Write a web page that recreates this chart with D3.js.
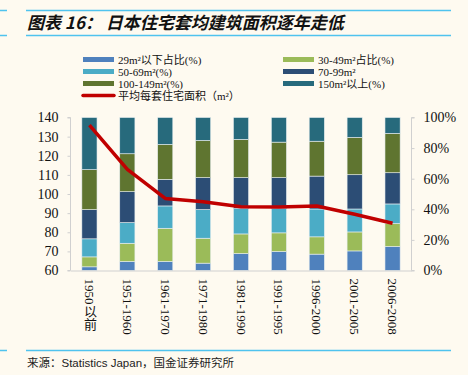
<!DOCTYPE html>
<html>
<head>
  <meta charset="utf-8">
  <script src="https://d3js.org/d3.v7.min.js"></script>
  <style>
    body { margin: 0; background: #fefaf0; }
    svg { display: block; }
    .serif { font-family: "Liberation Serif", "Noto Sans CJK SC", serif; }
  </style>
</head>
<body>
  <svg id="chart"></svg>
  <script>
    var periods = ["1950以前", "1951-1960", "1961-1970", "1971-1980", "1981-1990", "1991-1995", "1996-2000", "2001-2005", "2006-2008"];

    // share of dwellings by floor area (%)
    var s29 = [2.4, 5.9, 5.9, 4.8, 11.1, 12.4, 10.7, 12.8, 15.7];
    var s30_49 = [6.5, 11.9, 21.7, 16.3, 12.8, 12.2, 11.3, 12.4, 15.0];
    var s50_69 = [11.8, 13.5, 14.6, 18.7, 16.5, 15.8, 18.2, 15.0, 12.8];
    var s70_99 = [19.1, 20.2, 17.4, 20.9, 20.3, 20.3, 21.5, 22.4, 20.4];
    var s100_149 = [26.1, 24.8, 22.8, 24.3, 25.0, 23.2, 22.8, 24.4, 25.7];
    var s150 = [34.1, 23.7, 17.6, 15.0, 14.3, 16.1, 15.5, 13.0, 10.4];

    // average floor area per dwelling (m²)
    var avgArea = [136, 112.9, 97.7, 96.0, 93.3, 93.2, 93.7, 89.4, 84.7];

    var seriesNames = ["29m²以下占比(%)", "30-49m²占比(%)", "50-69m²(%)", "70-99m²", "100-149m²(%)", "150m²以上(%)"];
    var seriesColors = ["#4f81bd", "#9bbb59", "#4bacc6", "#2c4d75", "#5f7530", "#276a7c"];
    var lineName = "平均每套住宅面积（m²）";
    var leftTicks = [60, 70, 80, 90, 100, 110, 120, 130, 140];
    var rightTicks = [0, 20, 40, 60, 80, 100];

    var width = 468, height = 375;
    var plot = { left: 70.5, right: 411.5, top: 117.5, bottom: 270.5 };

    var svg = d3.select("#chart").attr("width", width).attr("height", height);

    // header / footer rules
    var rule = "#4fc3ee";
    [[26, 451, 10.5], [26, 451, 35.5], [0, 7, 10.5], [0, 7, 35.5], [26, 451, 350.5], [0, 7, 350.5]].forEach(function(r) {
      svg.append("line").attr("x1", r[0]).attr("x2", r[1]).attr("y1", r[2]).attr("y2", r[2])
        .attr("stroke", rule).attr("stroke-width", 1.5);
    });

    svg.append("text")
      .attr("x", 27).attr("y", 29)
      .style("font-family", "'Noto Sans CJK SC', sans-serif")
      .style("font-size", "17px").style("font-weight", "bold").style("font-style", "italic")
      .attr("fill", "#111")
      .text("图表 16： 日本住宅套均建筑面积逐年走低");

    svg.append("text")
      .attr("x", 27).attr("y", 367)
      .style("font-family", "'Liberation Sans', 'Noto Sans CJK SC', sans-serif")
      .style("font-size", "11.5px")
      .attr("fill", "#222")
      .text("来源：Statistics Japan，国金证券研究所");

    // scales
    var x = d3.scaleBand().domain(periods).range([plot.left, plot.right]).paddingInner(0.6).paddingOuter(0.3);
    var yLeft = d3.scaleLinear().domain([60, 140]).range([plot.bottom, plot.top]);
    var yRight = d3.scaleLinear().domain([0, 100]).range([plot.bottom, plot.top]);

    // stacked bars
    var shares = [s29, s30_49, s50_69, s70_99, s100_149, s150];
    var table = periods.map(function(p, i) {
      var row = { period: p };
      shares.forEach(function(s, k) { row["k" + k] = s[i]; });
      return row;
    });
    var keys = shares.map(function(s, k) { return "k" + k; });
    var stack = d3.stack().keys(keys)(table);

    svg.append("g").selectAll("g")
      .data(stack)
      .join("g")
      .attr("fill", function(d, k) { return seriesColors[k]; })
      .selectAll("rect")
      .data(function(d) { return d; })
      .join("rect")
      .attr("x", function(d) { return x(d.data.period); })
      .attr("width", x.bandwidth())
      .attr("y", function(d) { return yRight(Math.min(d[1], 100)); })
      .attr("height", function(d) { return yRight(d[0]) - yRight(Math.min(d[1], 100)); })
      .attr("stroke", "#e8eef0").attr("stroke-width", 0.6);

    // axes
    var axisColor = "#d0d0d0";
    var gl = svg.append("g").attr("transform", "translate(" + plot.left + ",0)")
      .call(d3.axisLeft(yLeft).tickValues(leftTicks).tickSize(3).tickPadding(9));
    var gr = svg.append("g").attr("transform", "translate(" + plot.right + ",0)")
      .call(d3.axisRight(yRight).tickValues(rightTicks).tickSize(3).tickPadding(9).tickFormat(function(d) { return d + "%"; }));
    var gx = svg.append("g").attr("transform", "translate(0," + plot.bottom + ")")
      .call(d3.axisBottom(x).tickSize(0).tickFormat(""));
    [gl, gr, gx].forEach(function(g) {
      g.select(".domain").attr("stroke", axisColor);
      g.selectAll(".tick line").attr("stroke", axisColor);
      g.selectAll("text").attr("class", "serif").style("font-size", "14px").attr("fill", "#111");
    });
    gl.select(".domain").attr("d", "M-3," + plot.top + "H0V" + plot.bottom + "H-3");
    gr.select(".domain").attr("d", "M3," + plot.top + "H0V" + plot.bottom + "H3");

    // rotated x labels
    svg.append("g").selectAll("text")
      .data(periods)
      .join("text")
      .attr("class", "serif")
      .attr("x", function(d) { return x(d) + x.bandwidth() / 2; })
      .attr("y", plot.bottom + 8)
      .style("writing-mode", "vertical-rl")
      .style("font-size", "13px")
      .attr("fill", "#111")
      .text(function(d) { return d; });

    // average area line
    svg.append("path")
      .datum(avgArea)
      .attr("fill", "none")
      .attr("stroke", "#c00000")
      .attr("stroke-width", 3.5)
      .attr("stroke-linejoin", "round")
      .attr("d", d3.line()
        .x(function(d, i) { return x(periods[i]) + x.bandwidth() / 2; })
        .y(function(d) { return yLeft(d); }));

    // legend
    var leg = svg.append("g");
    seriesNames.forEach(function(name, k) {
      var col = k % 2, row = Math.floor(k / 2);
      var lx = col === 0 ? 83 : 283;
      var ly = 59.5 + row * 12;
      leg.append("rect").attr("x", lx).attr("y", ly - 2.5).attr("width", 31).attr("height", 5)
        .attr("fill", seriesColors[k]);
      leg.append("text").attr("class", "serif").attr("x", lx + 35).attr("y", ly + 4)
        .style("font-size", "11px").attr("fill", "#111").text(name);
    });
    leg.append("line").attr("x1", 83).attr("x2", 114).attr("y1", 95.5).attr("y2", 95.5)
      .attr("stroke", "#c00000").attr("stroke-width", 3.5).attr("stroke-linecap", "round");
    leg.append("text").attr("class", "serif").attr("x", 118).attr("y", 99.5)
      .style("font-size", "11px").attr("fill", "#111").text(lineName);
  </script>
</body>
</html>
